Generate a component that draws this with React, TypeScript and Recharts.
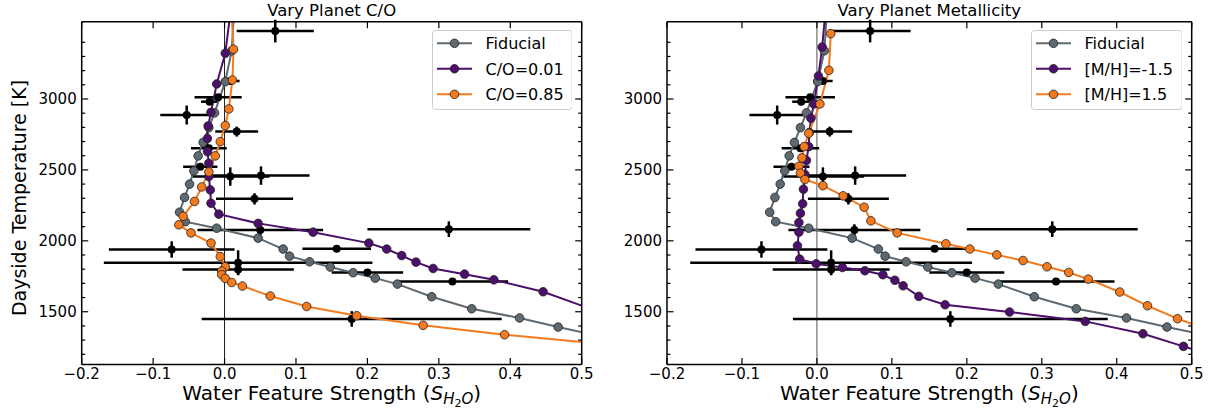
import React from "react";
import { ComposedChart, Line, Scatter, ErrorBar, XAxis, YAxis, ReferenceLine } from "recharts";

const xTicks = [-0.2, -0.1, 0, 0.1, 0.2, 0.3, 0.4, 0.5];
const yTicks = [1200, 1300, 1400, 1500, 1600, 1700, 1800, 1900, 2000, 2100, 2200, 2300, 2400, 2500, 2600, 2700, 2800, 2900, 3000, 3100, 3200, 3300, 3400];
const yDomain = [1128, 3545];

// observed planets
const obsS = [0.071, -0.009, -0.021, 0.008, -0.053, 0.017, -0.022, -0.034, 0.008, 0.051, 0.042, 0.05, -0.074, 0.019, 0.019, 0.178, 0.314, 0.157, 0.2, 0.319];
const obsSerr = [0.054, 0.033, 0.012, 0.013, 0.037, 0.03, 0.025, 0.024, 0.055, 0.068, 0.054, 0.088, 0.088, 0.188, 0.078, 0.21, 0.114, 0.048, 0.05, 0.078];
const obsT = [3479, 3012, 2981, 3127, 2887, 2770, 2653, 2523, 2453, 2460, 2296, 2077, 1939, 1845, 1798, 1449, 2082, 1944, 1777, 1713];
const obsTerr = [80, 15, 15, 15, 67, 35, 15, 15, 65, 65, 40, 40, 58, 88, 35, 55, 55, 15, 15, 15];

// model tracks
const fiducialS = [0.013, 0.01, 0.001, -0.014, -0.022, -0.03, -0.037, -0.043, -0.049, -0.056, -0.063, -0.055, -0.011, 0.047, 0.082, 0.091, 0.119, 0.148, 0.18, 0.211, 0.242, 0.29, 0.346, 0.413, 0.467, 0.56];
const fiducialT = [3600, 3340, 3122, 2902, 2798, 2694, 2599, 2493, 2400, 2306, 2202, 2135, 2089, 2019, 1942, 1892, 1852, 1815, 1775, 1737, 1695, 1606, 1521, 1456, 1392, 1290];

const coLowS = [0.008, 0.001, -0.011, -0.019, -0.023, -0.024, -0.024, -0.022, -0.022, -0.02, -0.019, -0.008, 0.047, 0.124, 0.202, 0.227, 0.248, 0.268, 0.292, 0.336, 0.377, 0.446, 0.553];
const coLowT = [3600, 3322, 3106, 2906, 2810, 2722, 2629, 2547, 2453, 2359, 2265, 2188, 2123, 2061, 1984, 1942, 1896, 1850, 1805, 1765, 1725, 1641, 1447];

const coHighS = [0.01, 0.0126, 0.011, 0.006, 0.001, -0.006, -0.013, -0.022, -0.032, -0.042, -0.058, -0.064, -0.047, -0.019, -0.006, 0.001, -0.004, -0.004, 0.001, 0.01, 0.025, 0.064, 0.115, 0.185, 0.278, 0.392, 0.581];
const coHighT = [3600, 3351, 3134, 2930, 2813, 2699, 2599, 2486, 2380, 2278, 2173, 2113, 2056, 1984, 1889, 1817, 1787, 1761, 1735, 1706, 1681, 1611, 1537, 1472, 1404, 1338, 1247];

const mhLowS = [0.012, 0.007, 0.002, -0.004, -0.008, -0.01, -0.011, -0.014, -0.016, -0.018, -0.019, -0.022, -0.024, -0.024, -0.026, -0.023, -0.001, 0.034, 0.064, 0.088, 0.104, 0.115, 0.136, 0.171, 0.257, 0.358, 0.435, 0.489, 0.555];
const mhLowT = [3650, 3366, 3162, 2965, 2864, 2764, 2664, 2567, 2468, 2364, 2261, 2195, 2129, 2061, 1965, 1871, 1838, 1812, 1789, 1761, 1722, 1683, 1608, 1549, 1498, 1432, 1345, 1256, 1148];

const mhHighS = [0.0185, 0.016, 0.004, -0.011, -0.017, -0.02, -0.024, -0.022, -0.016, 0.008, 0.035, 0.063, 0.072, 0.107, 0.172, 0.204, 0.24, 0.275, 0.307, 0.336, 0.362, 0.404, 0.441, 0.481, 0.555];
const mhHighT = [3461, 3202, 2965, 2758, 2664, 2585, 2526, 2477, 2432, 2389, 2317, 2237, 2141, 2056, 1979, 1942, 1901, 1861, 1817, 1777, 1730, 1639, 1542, 1451, 1310];

const GRAY = "#5d6a72";
const PURPLE = "#4c0f6c";
const ORANGE = "#f37a1d";
const FONT = "'DejaVu Sans', sans-serif";

const zip = (xs: number[], ts: number[]) => xs.map((x, i) => ({ x, T: ts[i] }));
const obsData = obsS.map((x, i) => ({ x, T: obsT[i], xerr: obsSerr[i], terr: obsTerr[i] }));

const fmtX = (v: number) => v.toFixed(1).replace("-", "\u2212");

const LeftTick = ({ x, y, payload }: any) => {
  const major = payload.value % 500 === 0;
  return (
    <g>
      <line x1={x} x2={x + (major ? 6.5 : 3.5)} y1={y} y2={y} stroke="#000" strokeWidth={1.2} />
      {major && (
        <text x={x - 5} y={y + 5.5} textAnchor="end" fontSize={15} fontFamily={FONT} fill="#000">
          {payload.value}
        </text>
      )}
    </g>
  );
};

const RightTick = ({ x, y, payload }: any) => {
  const major = payload.value % 500 === 0;
  return <line x1={x} x2={x - (major ? 6.5 : 3.5)} y1={y} y2={y} stroke="#000" strokeWidth={1.2} />;
};

const BottomTick = ({ x, y, payload }: any) => (
  <g>
    <line x1={x} x2={x} y1={y} y2={y - 6.5} stroke="#000" strokeWidth={1.2} />
    <text x={x} y={y + 14.5} textAnchor="middle" fontSize={15} fontFamily={FONT} fill="#000">
      {fmtX(payload.value)}
    </text>
  </g>
);

const TopTick = ({ x, y }: any) => <line x1={x} x2={x} y1={y} y2={y + 6.5} stroke="#000" strokeWidth={1.2} />;

type Series = { name: string; color: string; data: { x: number; T: number }[] };

function LegendBox({ left, width, items }: { left: number; width: number; items: Series[] }) {
  return (
    <svg style={{ position: "absolute", left, top: 30 }} width={width} height={80}>
      <rect x={0.5} y={0.5} width={width - 1} height={79} rx={3} fill="#fff" fillOpacity={0.85} stroke="#cccccc" />
      {items.map((it, i) => {
        const cy = 13.3 + i * 25.5;
        return (
          <g key={it.name}>
            <line x1={5} x2={40} y1={cy} y2={cy} stroke={it.color} strokeWidth={2} />
            <circle cx={22.5} cy={cy} r={4.3} fill={it.color} stroke="#222" strokeWidth={0.8} />
            <text x={53.5} y={cy + 5.8} fontSize={16} fontFamily={FONT} fill="#000">
              {it.name}
            </text>
          </g>
        );
      })}
    </svg>
  );
}

// axes are 1px thick boxes; margins below are shrunk by that 1px so the frame lands where the reference has it
function Panel({ left, width, plot, title, series, zeroColor, legendLeft, legendWidth }: any) {
  const margin = { top: plot.top - 1, right: plot.right - 1, bottom: plot.bottom - 1, left: plot.left - 1 };
  const cx = plot.left + (width - plot.left - plot.right) / 2;
  return (
    <div style={{ position: "absolute", left, top: 0, width, height: 410 }}>
      <ComposedChart width={width} height={410} margin={margin}>
        <XAxis
          type="number"
          dataKey="x"
          domain={[-0.2, 0.5]}
          allowDataOverflow
          ticks={xTicks}
          interval={0}
          height={1}
          tickSize={0}
          tickMargin={0}
          tickLine={false}
          tick={(p: any) => <BottomTick {...p} />}
          axisLine={{ stroke: "#000", strokeWidth: 1.5 }}
        />
        <XAxis
          xAxisId="top"
          orientation="top"
          type="number"
          dataKey="x"
          domain={[-0.2, 0.5]}
          allowDataOverflow
          ticks={xTicks}
          interval={0}
          height={1}
          tickSize={0}
          tickMargin={0}
          tickLine={false}
          tick={(p: any) => <TopTick {...p} />}
          axisLine={{ stroke: "#000", strokeWidth: 1.5 }}
        />
        <YAxis
          type="number"
          dataKey="T"
          domain={yDomain}
          allowDataOverflow
          ticks={yTicks}
          interval={0}
          width={1}
          tickSize={0}
          tickMargin={0}
          tickLine={false}
          tick={(p: any) => <LeftTick {...p} />}
          axisLine={{ stroke: "#000", strokeWidth: 1.5 }}
        />
        <YAxis
          yAxisId="right"
          orientation="right"
          type="number"
          dataKey="T"
          domain={yDomain}
          allowDataOverflow
          ticks={yTicks}
          interval={0}
          width={1}
          tickSize={0}
          tickMargin={0}
          tickLine={false}
          tick={(p: any) => <RightTick {...p} />}
          axisLine={{ stroke: "#000", strokeWidth: 1.5 }}
        />
        <ReferenceLine x={0} stroke={zeroColor} strokeWidth={1} />
        <Scatter data={obsData} fill="#000" isAnimationActive={false} shape={(p: any) => <circle cx={p.cx} cy={p.cy} r={4} fill="#000" />}>
          <ErrorBar dataKey="xerr" direction="x" width={0} stroke="#000" strokeWidth={2.5} />
          <ErrorBar dataKey="terr" direction="y" width={0} stroke="#000" strokeWidth={2.5} />
        </Scatter>
        {series.map((s: Series) => (
          <Line
            key={s.name}
            data={s.data}
            dataKey="T"
            name={s.name}
            stroke={s.color}
            strokeWidth={2}
            dot={{ r: 4.3, fill: s.color, stroke: "#222", strokeWidth: 0.8 }}
            isAnimationActive={false}
          />
        ))}
      </ComposedChart>
      <div
        style={{
          position: "absolute",
          left: cx - 200,
          width: 400,
          top: 0,
          textAlign: "center",
          fontFamily: FONT,
          fontSize: 16.5,
          lineHeight: "21px",
        }}
      >
        {title}
      </div>
      <svg style={{ position: "absolute", left: 0, top: 0 }} width={width} height={410}>
        <text x={cx} y={400} textAnchor="middle" fontSize={20} fontFamily={FONT} fill="#000">
          Water Feature Strength (<tspan fontStyle="italic">S</tspan>
          <tspan fontStyle="italic" fontSize={15} dy={4}>H</tspan>
          <tspan fontSize={11} dy={2.5}>2</tspan>
          <tspan fontStyle="italic" fontSize={15} dy={-2.5}>O</tspan>
          <tspan dy={-4}>)</tspan>
        </text>
      </svg>
      <LegendBox left={legendLeft} width={legendWidth} items={series} />
    </div>
  );
}

export default function App() {
  const coSeries: Series[] = [
    { name: "Fiducial", color: GRAY, data: zip(fiducialS, fiducialT) },
    { name: "C/O=0.01", color: PURPLE, data: zip(coLowS, coLowT) },
    { name: "C/O=0.85", color: ORANGE, data: zip(coHighS, coHighT) },
  ];
  const mhSeries: Series[] = [
    { name: "Fiducial", color: GRAY, data: zip(fiducialS, fiducialT) },
    { name: "[M/H]=-1.5", color: PURPLE, data: zip(mhLowS, mhLowT) },
    { name: "[M/H]=1.5", color: ORANGE, data: zip(mhHighS, mhHighT) },
  ];
  return (
    <div style={{ position: "absolute", left: 0, top: 0, width: 1211, height: 410, background: "#fff" }}>
      <svg style={{ position: "absolute", left: 0, top: 0 }} width={40} height={410}>
        <text
          transform="translate(19,198) rotate(-90)"
          textAnchor="middle"
          dominantBaseline="central"
          fontSize={19}
          fontFamily={FONT}
          fill="#000"
        >
          Dayside Temperature [K]
        </text>
      </svg>
      <Panel
        left={0}
        width={600}
        plot={{ top: 21.7, right: 18.3, bottom: 45.5, left: 81.7 }}
        title="Vary Planet C/O"
        series={coSeries}
        zeroColor="#1a1a1a"
        legendLeft={431.7}
        legendWidth={140.6}
      />
      <Panel
        left={600}
        width={611}
        plot={{ top: 21.7, right: 19.3, bottom: 45.5, left: 67 }}
        title="Vary Planet Metallicity"
        series={mhSeries}
        zeroColor="#555"
        legendLeft={430.7}
        legendWidth={151.6}
      />
    </div>
  );
}
